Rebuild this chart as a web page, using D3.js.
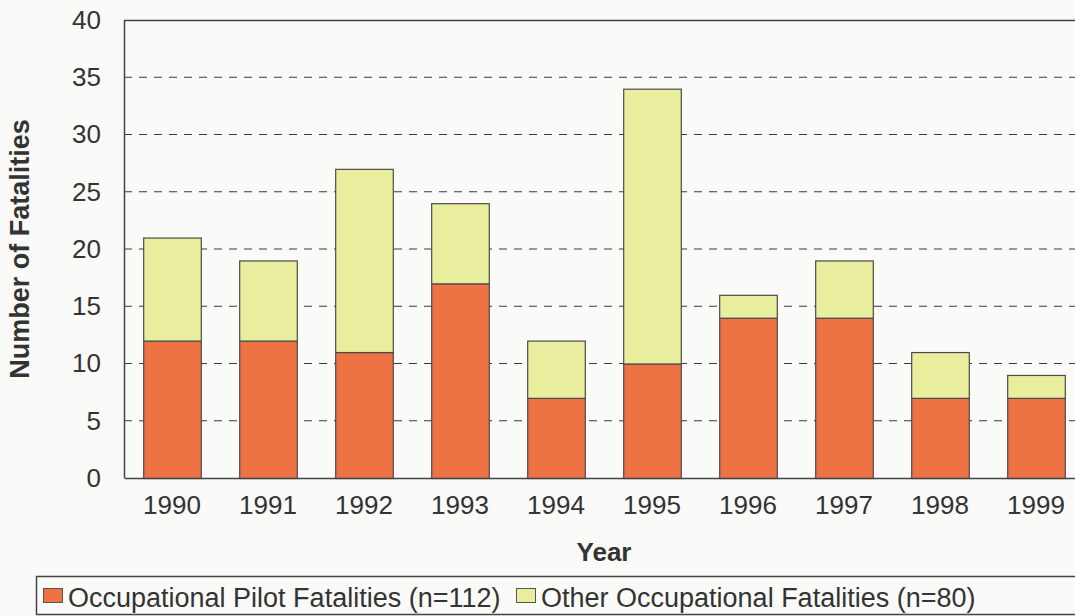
<!DOCTYPE html>
<html>
<head>
<meta charset="utf-8">
<script src="https://cdn.jsdelivr.net/npm/d3@7"></script>
<style>
  body { margin: 0; background: #fafaf8; }
  svg { display: block; }
  svg text { font-family: "Liberation Sans", Arial, sans-serif; }
</style>
</head>
<body>
<div id="container"></div>
<script>
var years = ["1990", "1991", "1992", "1993", "1994", "1995", "1996", "1997", "1998", "1999"];
var pilot = [12, 12, 11, 17, 7, 10, 14, 14, 7, 7];
var other = [9, 7, 16, 7, 5, 24, 2, 5, 4, 2];
var seriesNames = ["Occupational Pilot Fatalities (n=112)", "Other Occupational Fatalities (n=80)"];
var seriesColors = ["#ee7244", "#e9ee9e"];
var yTicks = [0, 5, 10, 15, 20, 25, 30, 35, 40];

var width = 1075, height = 616;
var margin = { top: 20, right: -9, bottom: 138, left: 124 };
var innerW = width - margin.left - margin.right;
var innerH = height - margin.top - margin.bottom;

var svg = d3.select("#container").append("svg")
    .attr("width", width)
    .attr("height", height);

svg.append("rect").attr("width", width).attr("height", height).attr("fill", "#fafaf8");

var main = svg.append("g")
    .attr("transform", `translate(${margin.left},${margin.top})`);

var x = d3.scaleBand().domain(years).range([0, innerW]).paddingInner(0.4).paddingOuter(0.2);
var y = d3.scaleLinear().domain([0, 40]).range([innerH, 0]);

// gridlines
main.selectAll("line.grid")
    .data(yTicks.filter(d => d > 0 && d < 40))
    .enter().append("line")
    .attr("class", "grid")
    .attr("x1", 0).attr("x2", innerW)
    .attr("y1", d => y(d)).attr("y2", d => y(d))
    .attr("stroke", "#3a3a3a")
    .attr("stroke-width", 1)
    .attr("stroke-dasharray", "8,7");

// stacked data
var rows = years.map((yr, i) => ({ year: yr, pilot: pilot[i], other: other[i] }));
var stack = d3.stack().keys(["pilot", "other"])(rows);

main.selectAll("g.series")
    .data(stack)
    .enter().append("g")
    .attr("class", "series")
    .attr("fill", (d, i) => seriesColors[i])
    .selectAll("rect")
    .data(d => d)
    .enter().append("rect")
    .attr("x", d => x(d.data.year) + 0.5)
    .attr("y", d => y(d[1]) + 0.5)
    .attr("width", x.bandwidth())
    .attr("height", d => y(d[0]) - y(d[1]))
    .attr("stroke", "#4a4a4a")
    .attr("stroke-width", 1.2);

// frame: top and left
main.append("line").attr("x1", 0).attr("x2", innerW).attr("y1", 0.5).attr("y2", 0.5)
    .attr("stroke", "#444").attr("stroke-width", 1.5);
main.append("line").attr("x1", 0.5).attr("x2", 0.5).attr("y1", 0).attr("y2", innerH)
    .attr("stroke", "#444").attr("stroke-width", 1.5);

// axes
var yAxis = main.append("g")
    .call(d3.axisLeft(y).tickValues(yTicks).tickSize(0).tickPadding(23));
yAxis.select(".domain").remove();
yAxis.selectAll("text")
    .attr("fill", "#333")
    .style("font-size", "26px");

var xAxis = main.append("g")
    .attr("transform", `translate(0,${innerH})`)
    .call(d3.axisBottom(x).tickSize(0).tickPadding(18));
xAxis.select(".domain").attr("stroke", "#444").attr("stroke-width", 1.5);
xAxis.selectAll("text")
    .attr("fill", "#333")
    .style("font-size", "26px");

// axis titles
svg.append("text")
    .attr("transform", `translate(29,${margin.top + innerH / 2}) rotate(-90)`)
    .attr("text-anchor", "middle")
    .attr("fill", "#333")
    .style("font-size", "27px")
    .style("font-weight", "bold")
    .text("Number of Fatalities");

svg.append("text")
    .attr("x", 604)
    .attr("y", 561)
    .attr("text-anchor", "middle")
    .attr("fill", "#333")
    .style("font-size", "26px")
    .style("font-weight", "bold")
    .text("Year");

// legend
var legend = svg.append("g");
legend.append("rect")
    .attr("x", 36.5).attr("y", 576.5)
    .attr("width", 1060).attr("height", 38)
    .attr("fill", "#fafaf8")
    .attr("stroke", "#444")
    .attr("stroke-width", 1.5);

var legendX = [43, 516];
var item = legend.selectAll("g.item")
    .data(seriesNames)
    .enter().append("g")
    .attr("class", "item")
    .attr("transform", (d, i) => `translate(${legendX[i]},588)`);
item.append("rect")
    .attr("width", 19).attr("height", 14)
    .attr("x", 0.5).attr("y", 0.5)
    .attr("fill", (d, i) => seriesColors[i])
    .attr("stroke", "#555");
item.append("text")
    .attr("x", 25)
    .attr("y", 19)
    .attr("fill", "#333")
    .style("font-size", "27px")
    .text(d => d);
</script>
</body>
</html>
